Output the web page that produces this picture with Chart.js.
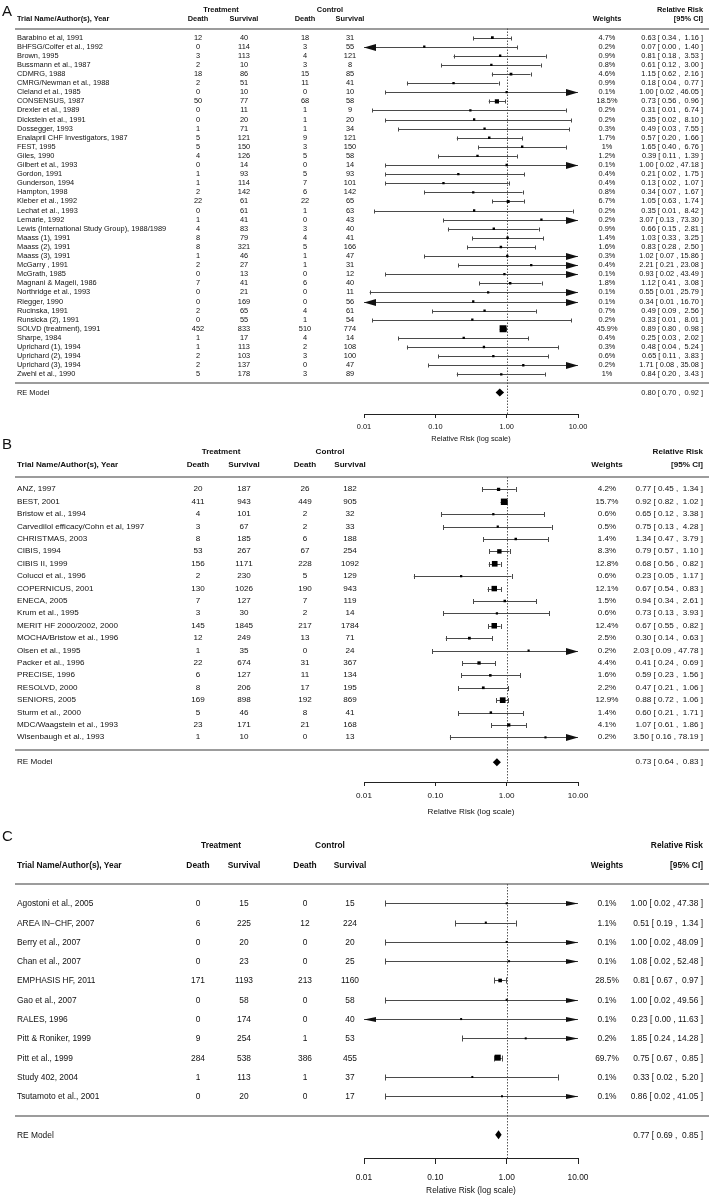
<!DOCTYPE html>
<html><head><meta charset="utf-8">
<script src="https://cdn.jsdelivr.net/npm/chart.js@4"></script>
<style>
html,body{margin:0;padding:0;background:#fff;}
#page{position:relative;width:709px;height:1197px;overflow:hidden;font-family:"Liberation Sans",Arial,Helvetica,sans-serif;color:#111;}
canvas{position:absolute;left:0;}
.t{position:absolute;white-space:pre;line-height:1;}
</style></head><body><div id="page"></div>
<script>
// ================= DATA =================
// ---- Panel A ----
const studiesA = ["Barabino et al, 1991","BHFSG/Colfer et al., 1992","Brown, 1995","Bussmann et al., 1987","CDMRG, 1988","CMRG/Newman et al., 1988","Cleland et al., 1985","CONSENSUS, 1987","Drexler et al., 1989","Dickstein et al., 1991","Dossegger, 1993","Enalapril CHF Investigators, 1987","FEST, 1995","Giles, 1990","Gilbert et al., 1993","Gordon, 1991","Gunderson, 1994","Hampton, 1998","Kleber et al., 1992","Lechat et al., 1993","Lemarie, 1992","Lewis (International Study Group), 1988/1989","Maass (1), 1991","Maass (2), 1991","Maass (3), 1991","McGarry , 1991","McGrath, 1985","Magnani & Mageli, 1986","Northridge et al., 1993","Riegger, 1990","Rucinska, 1991","Runsicka (2), 1991","SOLVD (treatment), 1991","Sharpe, 1984","Uprichard (1), 1994","Uprichard (2), 1994","Uprichard (3), 1994","Zwehl et al., 1990"];
const treatDeathA = [12,0,3,2,18,2,0,50,0,0,1,5,5,4,0,1,1,2,22,0,1,4,8,8,1,2,0,7,0,0,2,0,452,1,1,2,2,5];
const treatSurvA  = [40,114,113,10,86,51,10,77,11,20,71,121,150,126,14,93,114,142,61,61,41,83,79,321,46,27,13,41,21,169,65,55,833,17,113,103,137,178];
const ctrlDeathA  = [18,3,4,3,15,11,0,68,1,1,1,9,3,5,0,5,7,6,22,1,0,3,4,5,1,1,0,6,0,0,4,1,510,4,2,3,0,3];
const ctrlSurvA   = [31,55,121,8,85,41,10,58,9,20,34,121,150,58,14,93,101,142,65,63,43,40,41,166,47,31,12,40,11,56,61,54,774,14,108,100,47,89];
const weightsA    = [4.7,0.2,0.9,0.8,4.6,0.9,0.1,18.5,0.2,0.2,0.3,1.7,1,1.2,0.1,0.4,0.4,0.8,6.7,0.2,0.2,0.9,1.4,1.6,0.3,0.4,0.1,1.8,0.1,0.1,0.7,0.2,45.9,0.4,0.3,0.6,0.2,1];
const rrA    = [0.63,0.07,0.81,0.61,1.15,0.18,1.00,0.73,0.31,0.35,0.49,0.57,1.65,0.39,1.00,0.21,0.13,0.34,1.05,0.35,3.07,0.66,1.03,0.83,1.02,2.21,0.93,1.12,0.55,0.34,0.49,0.33,0.89,0.25,0.48,0.65,1.71,0.84];
const lowerA = [0.34,0.004,0.18,0.12,0.62,0.04,0.02,0.56,0.013,0.02,0.03,0.20,0.40,0.11,0.02,0.02,0.02,0.07,0.63,0.014,0.13,0.15,0.33,0.28,0.07,0.21,0.02,0.41,0.012,0.007,0.09,0.013,0.80,0.03,0.04,0.11,0.08,0.20];
const upperA = [1.16,1.40,3.53,3.00,2.16,0.77,46.05,0.96,6.74,8.10,7.55,1.66,6.76,1.39,47.18,1.75,1.07,1.67,1.74,8.42,73.30,2.81,3.25,2.50,15.86,23.08,43.49,3.08,25.79,16.70,2.56,8.01,0.98,2.02,5.24,3.83,35.08,3.43];
const pooledA = [0.80,0.70,0.92];

// ---- Panel B ----
const studiesB = ["ANZ, 1997","BEST, 2001","Bristow et al., 1994","Carvedilol efficacy/Cohn et al, 1997","CHRISTMAS, 2003","CIBIS, 1994","CIBIS II, 1999","Colucci et al., 1996","COPERNICUS, 2001","ENECA, 2005","Krum et al., 1995","MERIT HF 2000/2002, 2000","MOCHA/Bristow et al., 1996","Olsen et al., 1995","Packer et al., 1996","PRECISE, 1996","RESOLVD, 2000","SENIORS, 2005","Sturm et al., 2000","MDC/Waagstein et al., 1993","Wisenbaugh et al., 1993"];
const treatDeathB = [20,411,4,3,8,53,156,2,130,7,3,145,12,1,22,6,8,169,5,23,1];
const treatSurvB  = [187,943,101,67,185,267,1171,230,1026,127,30,1845,249,35,674,127,206,898,46,171,10];
const ctrlDeathB  = [26,449,2,2,6,67,228,5,190,7,2,217,13,0,31,11,17,192,8,21,0];
const ctrlSurvB   = [182,905,32,33,188,254,1092,129,943,119,14,1784,71,24,367,134,195,869,41,168,13];
const weightsB    = [4.2,15.7,0.6,0.5,1.4,8.3,12.8,0.6,12.1,1.5,0.6,12.4,2.5,0.2,4.4,1.6,2.2,12.9,1.4,4.1,0.2];
const rrB    = [0.77,0.92,0.65,0.75,1.34,0.79,0.68,0.23,0.67,0.94,0.73,0.67,0.30,2.03,0.41,0.59,0.47,0.88,0.60,1.07,3.50];
const lowerB = [0.45,0.82,0.12,0.13,0.47,0.57,0.56,0.05,0.54,0.34,0.13,0.55,0.14,0.09,0.24,0.23,0.21,0.72,0.21,0.61,0.16];
const upperB = [1.34,1.02,3.38,4.28,3.79,1.10,0.82,1.17,0.83,2.61,3.93,0.82,0.63,47.78,0.69,1.56,1.06,1.06,1.71,1.86,78.19];
const pooledB = [0.73,0.64,0.83];

// ---- Panel C ----
const studiesC = ["Agostoni et al., 2005","AREA IN\u2212CHF, 2007","Berry et al., 2007","Chan et al., 2007","EMPHASIS HF, 2011","Gao et al., 2007","RALES, 1996","Pitt & Roniker, 1999","Pitt et al., 1999","Study 402, 2004","Tsutamoto et al., 2001"];
const treatDeathC = [0,6,0,0,171,0,0,9,284,1,0];
const treatSurvC  = [15,225,20,23,1193,58,174,254,538,113,20];
const ctrlDeathC  = [0,12,0,0,213,0,0,1,386,1,0];
const ctrlSurvC   = [15,224,20,25,1160,58,40,53,455,37,17];
const weightsC    = [0.1,1.1,0.1,0.1,28.5,0.1,0.1,0.2,69.7,0.1,0.1];
const rrC    = [1.00,0.51,1.00,1.08,0.81,1.00,0.23,1.85,0.75,0.33,0.86];
const lowerC = [0.02,0.19,0.02,0.02,0.67,0.02,0.004,0.24,0.67,0.02,0.02];
const upperC = [47.38,1.34,48.09,52.48,0.97,49.56,11.63,14.28,0.85,5.20,41.05];
const pooledC = [0.77,0.69,0.85];

// ---- shared axis / labels ----
const axisTicks = [0.01, 0.1, 1, 10];
const axisTitle = "Relative Risk (log scale)";
const modelLabel = "RE Model";

// ================= LAYOUT =================
const FONT = '"Liberation Sans", Arial, Helvetica, sans-serif';
const COL = {name:17, td:198, ts:244, cd:305, cs:350, trt:221, ctl:330, w:607, rr:703};
const page = document.getElementById('page');

const panels = [
  {letter:'A', letterY:10, top:0, height:448, headerY:28.5, axisY:414, extra:3.36, fs:7.4,
   tickLen:4, tickPad:4.6, titleD:25, cap:2, arrowLen:12, arrowH:3.5, dia:4, base:4.6,
   names:studiesA, td:treatDeathA, ts:treatSurvA, cd:ctrlDeathA, cs:ctrlSurvA, w:weightsA, rr:rrA, lo:lowerA, hi:upperA, pooled:pooledA},
  {letter:'B', letterY:443, top:436, height:386, headerY:477, axisY:782, extra:2.6, fs:8.1,
   tickLen:4, tickPad:5.1, titleD:30, cap:2.5, arrowLen:12, arrowH:3.5, dia:4, base:4.3,
   names:studiesB, td:treatDeathB, ts:treatSurvB, cd:ctrlDeathB, cs:ctrlSurvB, w:weightsB, rr:rrB, lo:lowerB, hi:upperB, pooled:pooledB},
  {letter:'C', letterY:835, top:820, height:377, headerY:884, axisY:1158, extra:2.2, fs:8.4,
   tickLen:6, tickPad:9, titleD:33, cap:3, arrowLen:12, arrowH:2.6, dia:4.5, base:4.0,
   names:studiesC, td:treatDeathC, ts:treatSurvC, cd:ctrlDeathC, cs:ctrlSurvC, w:weightsC, rr:rrC, lo:lowerC, hi:upperC, pooled:pooledC}
];

function sizeOf(P, i) {
  const wmin = Math.min(...P.w), wmax = Math.max(...P.w);
  return P.base * (0.5 + (P.w[i] - wmin) / (wmax - wmin));
}

const forestPlugin = {
  id: 'forest',
  beforeDatasetsDraw(chart, args, o) {
    const P = o.panel; const {ctx, chartArea:a} = chart; const x = chart.scales.x, y = chart.scales.y;
    const k = P.rr.length;
    ctx.save();
    // header and separator lines
    ctx.strokeStyle = '#9c9c9c'; ctx.lineWidth = 2;
    [-1, k].forEach(v => {
      const py = Math.round(y.getPixelForValue(v));
      ctx.beginPath(); ctx.moveTo(15, py); ctx.lineTo(709, py); ctx.stroke();
    });
    // reference line at RR = 1
    const rx = Math.round(x.getPixelForValue(1)) + 0.5;
    ctx.setLineDash([1.5, 1.5]); ctx.strokeStyle = '#555'; ctx.lineWidth = 1;
    ctx.beginPath(); ctx.moveTo(rx, a.top); ctx.lineTo(rx, a.bottom); ctx.stroke();
    ctx.setLineDash([]);
    // confidence intervals
    ctx.strokeStyle = '#4a4a4a'; ctx.fillStyle = '#111'; ctx.lineWidth = 1;
    P.rr.forEach((r, i) => {
      const py = Math.round(y.getPixelForValue(i)) + 0.5;
      let xl = x.getPixelForValue(P.lo[i]);
      let xr = x.getPixelForValue(P.hi[i]);
      const la = xl < a.left - 0.5, ra = xr > a.right + 0.5;
      if (la) xl = a.left; if (ra) xr = a.right;
      ctx.beginPath(); ctx.moveTo(xl, py); ctx.lineTo(xr, py); ctx.stroke();
      if (!la) { ctx.beginPath(); ctx.moveTo(Math.round(xl)+0.5, py - P.cap); ctx.lineTo(Math.round(xl)+0.5, py + P.cap); ctx.stroke(); }
      if (!ra) { ctx.beginPath(); ctx.moveTo(Math.round(xr)+0.5, py - P.cap); ctx.lineTo(Math.round(xr)+0.5, py + P.cap); ctx.stroke(); }
      if (la) { ctx.beginPath(); ctx.moveTo(a.left, py); ctx.lineTo(a.left + P.arrowLen, py - P.arrowH); ctx.lineTo(a.left + P.arrowLen, py + P.arrowH); ctx.closePath(); ctx.fill(); }
      if (ra) { ctx.beginPath(); ctx.moveTo(a.right, py); ctx.lineTo(a.right - P.arrowLen, py - P.arrowH); ctx.lineTo(a.right - P.arrowLen, py + P.arrowH); ctx.closePath(); ctx.fill(); }
    });
    ctx.restore();
  },
  afterDatasetsDraw(chart, args, o) {
    const P = o.panel; const {ctx} = chart; const x = chart.scales.x, y = chart.scales.y;
    const k = P.rr.length;
    const py = y.getPixelForValue(k + 1);
    const xe = x.getPixelForValue(P.pooled[0]), xl = x.getPixelForValue(P.pooled[1]), xr = x.getPixelForValue(P.pooled[2]);
    ctx.save(); ctx.fillStyle = '#000';
    ctx.beginPath(); ctx.moveTo(xl, py); ctx.lineTo(xe, py - P.dia); ctx.lineTo(xr, py); ctx.lineTo(xe, py + P.dia); ctx.closePath(); ctx.fill();
    ctx.restore();
  }
};

function T(text, x, y, align, size, bold) {
  const d = document.createElement('div');
  d.className = 't'; d.textContent = text;
  d.style.left = x + 'px'; d.style.top = y + 'px'; d.style.fontSize = size + 'px';
  if (bold) d.style.fontWeight = 'bold';
  const tx = align === 'c' ? '-50%' : align === 'r' ? '-100%' : '0';
  d.style.transform = 'translate(' + tx + ',-50%)';
  page.appendChild(d);
}
const f2 = v => v.toFixed(2);
const ciText = (r, l, h) => f2(r) + ' [ ' + f2(l) + ' , ' + f2(h).padStart(5, ' ') + ' ]';

panels.forEach(P => {
  const k = P.rr.length;
  const cv = document.createElement('canvas');
  cv.width = 709; cv.height = P.height;
  cv.style.top = P.top + 'px'; cv.style.width = '709px'; cv.style.height = P.height + 'px';
  page.appendChild(cv);
  const axH = P.titleD + 0.6 * P.fs;
  const padBottom = P.height - (P.axisY - P.top) - axH;
  const font = {family: FONT, size: P.fs};
  const chart = new Chart(cv, {
    type: 'scatter',
    data: { datasets: [{
      data: P.rr.map((v, i) => ({x: v, y: i})),
      pointStyle: 'rect',
      pointRadius: c => sizeOf(P, c.dataIndex) / Math.SQRT2,
      pointHoverRadius: c => sizeOf(P, c.dataIndex) / Math.SQRT2,
      backgroundColor: '#000', borderWidth: 0
    }]},
    options: {
      responsive: false, animation: false, devicePixelRatio: 1, events: [],
      layout: {padding: {left: 364, right: 131, top: P.headerY - P.top, bottom: padBottom}},
      plugins: {legend: {display: false}, tooltip: {enabled: false}, forest: {panel: P}},
      scales: {
        x: {
          type: 'logarithmic', min: 0.01, max: 10,
          afterBuildTicks: s => { s.ticks = axisTicks.map(v => ({value: v})); },
          afterFit: s => { s.height = axH; },
          ticks: {callback: v => Number(v).toFixed(2), font: font, color: '#111', padding: P.tickPad, autoSkip: false, maxRotation: 0},
          grid: {drawOnChartArea: false, drawTicks: true, tickLength: P.tickLen, color: '#222', lineWidth: 1},
          border: {display: true, color: '#222', width: 1},
          title: {display: true, text: axisTitle, font: font, color: '#111', padding: {top: 0, bottom: 0}}
        },
        y: {type: 'linear', display: false, reverse: true, min: -1, max: k + P.extra}
      }
    },
    plugins: [forestPlugin]
  });
  const Y = v => P.top + chart.scales.y.getPixelForValue(v);
  const fs = P.fs;
  T(P.letter, 2, P.letterY, 'l', 15, false);
  T('Treatment', COL.trt, Y(-3), 'c', fs, true);
  T('Control', COL.ctl, Y(-3), 'c', fs, true);
  T('Relative Risk', COL.rr, Y(-3), 'r', fs, true);
  T('Trial Name/Author(s), Year', COL.name, Y(-2), 'l', fs, true);
  T('Death', COL.td, Y(-2), 'c', fs, true);
  T('Survival', COL.ts, Y(-2), 'c', fs, true);
  T('Death', COL.cd, Y(-2), 'c', fs, true);
  T('Survival', COL.cs, Y(-2), 'c', fs, true);
  T('Weights', COL.w, Y(-2), 'c', fs, true);
  T('[95% CI]', COL.rr, Y(-2), 'r', fs, true);
  P.names.forEach((n, i) => {
    const yy = Y(i);
    T(n, COL.name, yy, 'l', fs, false);
    T(String(P.td[i]), COL.td, yy, 'c', fs, false);
    T(String(P.ts[i]), COL.ts, yy, 'c', fs, false);
    T(String(P.cd[i]), COL.cd, yy, 'c', fs, false);
    T(String(P.cs[i]), COL.cs, yy, 'c', fs, false);
    T(String(P.w[i]) + '%', COL.w, yy, 'c', fs, false);
    T(ciText(P.rr[i], P.lo[i], P.hi[i]), COL.rr, yy, 'r', fs, false);
  });
  T(modelLabel, COL.name, Y(k + 1), 'l', fs, false);
  T(ciText(P.pooled[0], P.pooled[1], P.pooled[2]), COL.rr, Y(k + 1), 'r', fs, false);
});
</script></body></html>
